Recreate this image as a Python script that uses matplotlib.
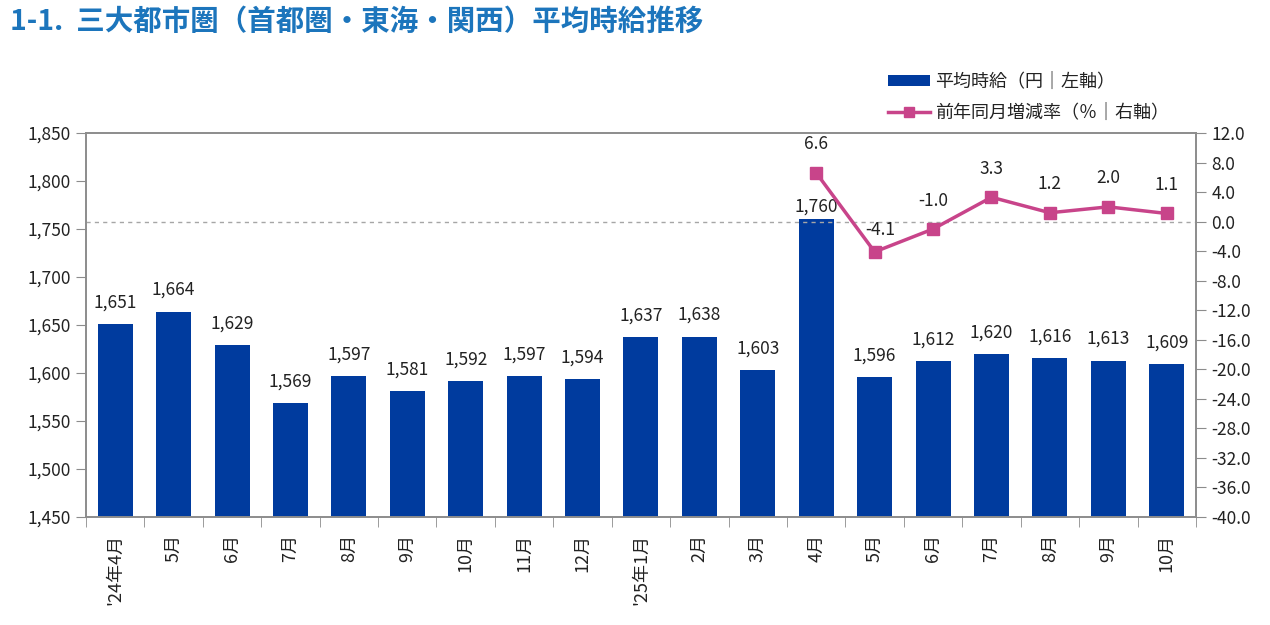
import numpy as np
import matplotlib
matplotlib.use('Agg')
import matplotlib.pyplot as plt
from matplotlib.patches import Patch
from matplotlib.lines import Line2D

plt.rcParams['font.family'] = ['Noto Sans CJK JP', 'DejaVu Sans']

# data
months = ["'24年4月", '5月', '6月', '7月', '8月', '9月', '10月', '11月', '12月',
          "'25年1月", '2月', '3月', '4月', '5月', '6月', '7月', '8月', '9月', '10月']
wage = [1651, 1664, 1629, 1569, 1597, 1581, 1592, 1597, 1594,
        1637, 1638, 1603, 1760, 1596, 1612, 1620, 1616, 1613, 1609]
yoy_start = 12
yoy = [6.6, -4.1, -1.0, 3.3, 1.2, 2.0, 1.1]

bar_color = '#003B9E'
line_color = '#C8448A'
axis_grey = '#8C8C8C'
text_color = '#222222'

fig = plt.figure(figsize=(12.7, 6.25), dpi=100)
ax = fig.add_axes([0.0677, 0.1728, 0.8740, 0.6144])
ax2 = ax.twinx()

x = np.arange(len(months))
ax.bar(x, wage, width=0.6, color=bar_color, zorder=2)
ax.set_ylim(1450, 1850)
ax.set_yticks(np.arange(1450, 1851, 50))
ax.set_yticklabels([f'{v:,}' for v in range(1450, 1851, 50)])
ax.set_xlim(-0.5, len(months) - 0.5)

for xi, v in zip(x, wage):
    dy = 3 if v == max(wage) else 9   # the tall bar's label sits closer
    ax.annotate(f'{v:,}', (xi, v), xytext=(0, dy), textcoords='offset points',
                ha='center', va='bottom', fontsize=12.5, color=text_color)

# right axis line
xl = x[yoy_start:]
ax2.plot(xl, yoy, color=line_color, lw=2.5, marker='s', ms=9, zorder=3)
ax2.axhline(0, color='#A6A6A6', lw=1, ls=(0, (3, 3)), zorder=1)
ax2.set_ylim(-40, 12)
ax2.set_yticks(np.arange(-40, 12.1, 4))
ax2.set_yticklabels([f'{v:.1f}' for v in np.arange(-40, 12.1, 4)])
for xi, v in zip(xl, yoy):
    dy = 9 if v < 0 and v == min(yoy) else 14
    dx = 4 if v == min(yoy) else 0
    ax2.annotate(f'{v:.1f}', (xi, v), xytext=(dx, dy), textcoords='offset points',
                 ha='center', va='bottom', fontsize=12.5, color=text_color)

# x ticks: labels at centers, tick marks at boundaries
ax.set_xticks(x)
ax.set_xticklabels(months, rotation=90, va='top', fontsize=13, color=text_color)
ax.tick_params(axis='x', which='major', length=0, pad=12)
ax.set_xticks(np.arange(-0.5, len(months), 1), minor=True)
ax.tick_params(axis='x', which='minor', length=7, color=axis_grey, direction='out')

ax.tick_params(axis='y', length=7, color=axis_grey, labelsize=12.5, labelcolor=text_color, pad=4)
ax2.tick_params(axis='y', length=7, color=axis_grey, labelsize=12.5, labelcolor=text_color, pad=4)

for a in (ax, ax2):
    for s in a.spines.values():
        s.set_color(axis_grey)
        s.set_linewidth(1.2)

# legend
handles = [Patch(facecolor=bar_color, edgecolor='none'),
           Line2D([0], [0], color=line_color, lw=2.5, marker='s', ms=7)]
labels = ['平均時給（円｜左軸）', '前年同月増減率（％｜右軸）']
fig.legend(handles, labels, loc='upper left', bbox_to_anchor=(0.6866, 0.91),
           frameon=False, fontsize=13, handlelength=2.3, handleheight=0.55,
           labelspacing=0.75, handletextpad=0.3, labelcolor=text_color)

fig.text(0.008, 0.965, '1-1.  三大都市圏（首都圏・東海・関西）平均時給推移',
         fontsize=20.5, fontweight='bold', color='#1C75BC', va='center', ha='left')

fig.savefig('out.png', dpi=100)
